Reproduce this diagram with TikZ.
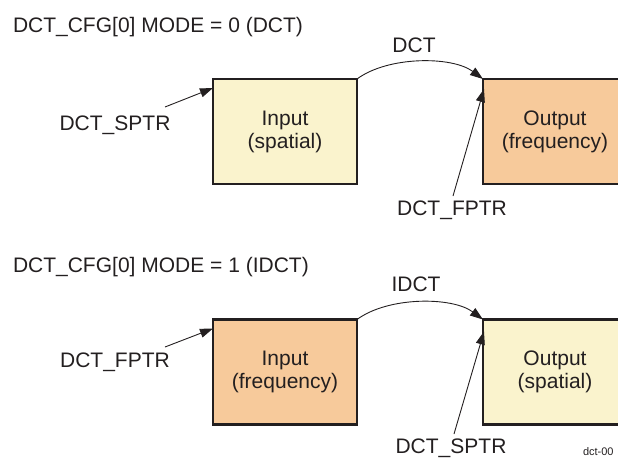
\documentclass[tikz,border=0pt]{standalone}
\usepackage{fontspec}
\setmainfont{Liberation Sans}
\usetikzlibrary{arrows.meta,calc}
\definecolor{spatialfill}{RGB}{250,243,205}
\definecolor{freqfill}{RGB}{247,202,155}
\definecolor{txt}{RGB}{35,31,32}
\begin{document}
\begin{tikzpicture}[x=1pt,y=-1pt,
  every node/.style={inner sep=0pt,outer sep=0pt,text=txt,font=\fontsize{21}{23}\selectfont},
  blockbox/.style={draw=txt,line width=2.4pt,minimum width=144pt,minimum height=105pt,align=center},
  spbox/.style={blockbox,fill=spatialfill},
  frbox/.style={blockbox,fill=freqfill},
  lbl/.style={anchor=base},
  arr/.style={draw=txt,line width=0.9pt,-{Triangle[length=13pt,width=9pt]}}
]
\useasboundingbox (0,0) rectangle (618,461);
\clip (0,0) rectangle (618,461);

% ---------- MODE = 0 (DCT) ----------
\node[anchor=base west] (t1) at (13,32) {DCT\_CFG[0] MODE = 0 (DCT)};
\node[spbox] (in1) at (285,131.5) {Input\\(spatial)};
\node[frbox] (out1) at (555,131.5) {Output\\(frequency)};
\node[lbl] (op1) at (414,52) {DCT};
\node[lbl] (sp1) at (115,130) {DCT\_SPTR};
\node[lbl] (fp1) at (452,215) {DCT\_FPTR};
\coordinate (sp1s) at (165,107);
\coordinate (fp1s) at (453,196);
\draw[arr] (in1.north east) .. controls +(31,-23) and +(-31,-23) .. (out1.north west);
\draw[arr] (sp1s) -- ($(in1.north west)+(0,9)$);
\draw[arr] (fp1s) -- ($(out1.north west)+(1,10)$);

% ---------- MODE = 1 (IDCT) ----------
\node[anchor=base west] (t2) at (13,272) {DCT\_CFG[0] MODE = 1 (IDCT)};
\node[frbox] (in2) at (285,372) {Input\\(frequency)};
\node[spbox] (out2) at (555,372) {Output\\(spatial)};
\node[lbl] (op2) at (416,291) {IDCT};
\node[lbl] (fp2) at (115,367) {DCT\_FPTR};
\node[lbl] (sp2) at (451,453) {DCT\_SPTR};
\coordinate (fp2s) at (165,347);
\coordinate (sp2s) at (454,434);
\draw[arr] (in2.north east) .. controls +(31,-23) and +(-31,-23) .. (out2.north west);
\draw[arr] (fp2s) -- ($(in2.north west)+(0,9)$);
\draw[arr] (sp2s) -- ($(out2.north west)+(1,12)$);

\node[anchor=north west,font=\fontsize{11}{12}\selectfont] (ref) at (583,448) {dct-00};
\end{tikzpicture}
\end{document}
